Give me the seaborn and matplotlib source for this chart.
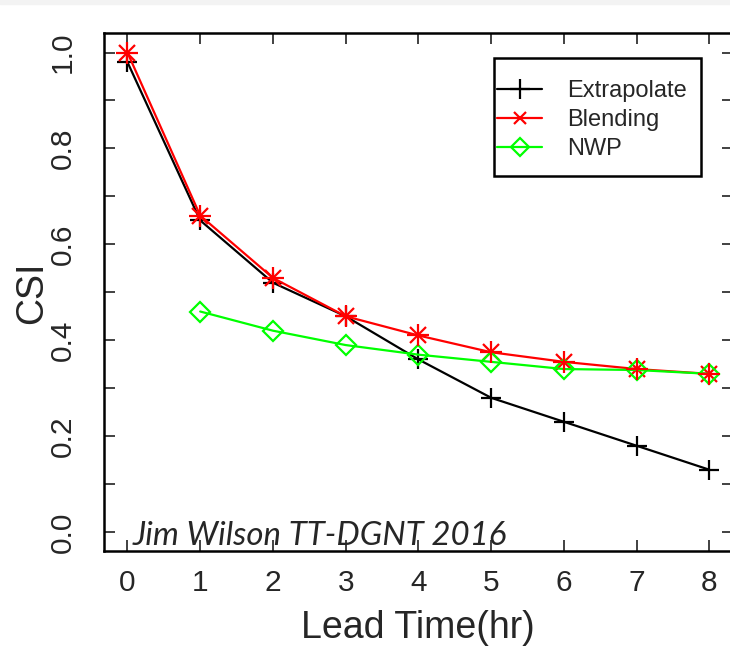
import numpy as np
import pandas as pd
import seaborn as sns
import matplotlib.pyplot as plt
from matplotlib.lines import Line2D
from matplotlib.patches import Rectangle

# values
lead_hours = [0, 1, 2, 3, 4, 5, 6, 7, 8]
extrapolate_csi = [0.98, 0.65, 0.52, 0.45, 0.36, 0.28, 0.23, 0.18, 0.13]
blending_csi = [1.00, 0.66, 0.53, 0.45, 0.41, 0.375, 0.355, 0.34, 0.33]
nwp_hours = [1, 2, 3, 4, 5, 6, 7, 8]
nwp_csi = [0.46, 0.42, 0.39, 0.37, 0.355, 0.34, 0.338, 0.33]
series_names = ['Extrapolate', 'Blending', 'NWP']
x_ticks = [0, 1, 2, 3, 4, 5, 6, 7, 8]
y_ticks = [0.0, 0.1, 0.2, 0.3, 0.4, 0.5, 0.6, 0.7, 0.8, 0.9, 1.0]
y_ticklabels = ['0.0', '', '0.2', '', '0.4', '', '0.6', '', '0.8', '', '1.0']

sns.set_style('ticks')
plt.rcParams['font.family'] = ['Liberation Sans', 'DejaVu Sans']

ext = pd.DataFrame({'hour': lead_hours, 'csi': extrapolate_csi})
bld = pd.DataFrame({'hour': lead_hours, 'csi': blending_csi})
nwp = pd.DataFrame({'hour': nwp_hours, 'csi': nwp_csi})

BLACK, RED, GREEN = 'black', '#ff0000', '#00ff00'

fig = plt.figure(figsize=(7.3, 6.68), dpi=100)
ax = fig.add_axes([0.1427, 0.1747, 0.8611, 0.7754])

lw = 1.6
sns.lineplot(data=ext, x='hour', y='csi', ax=ax, color=BLACK, lw=lw,
             marker='+', markersize=15, markeredgewidth=1.6,
             markeredgecolor=BLACK)
sns.lineplot(data=bld, x='hour', y='csi', ax=ax, color=RED, lw=lw,
             marker='x', markersize=11, markeredgewidth=1.6,
             markeredgecolor=RED)
sns.scatterplot(data=bld, x='hour', y='csi', ax=ax, color=RED,
                marker='+', s=230, linewidth=1.6, zorder=5)
sns.lineplot(data=nwp, x='hour', y='csi', ax=ax, color=GREEN, lw=lw,
             marker='D', markersize=10, markerfacecolor='none',
             markeredgecolor=GREEN, markeredgewidth=1.6)

ax.set_xlim(-0.32, 8.32)
ax.set_ylim(-0.04, 1.04)
ax.set_xticks(x_ticks)
ax.set_yticks(y_ticks)
ax.set_yticklabels(y_ticklabels, rotation=90, va='center')
ax.tick_params(direction='in', length=8, width=1.3, labelsize=21.5,
               top=True, right=True, color='#333333')
ax.tick_params(axis='x', pad=13)
ax.tick_params(axis='y', pad=20)
for s in ax.spines.values():
    s.set_linewidth(1.8)
    s.set_color('black')

ax.set_xlabel('Lead Time(hr)', fontsize=27)
ax.set_ylabel('CSI', fontsize=27)
ax.xaxis.set_label_coords(0.4992, -0.113)
ax.yaxis.set_label_coords(-0.086, 0.5)

ax.text(0.075, -0.026, 'Jim Wilson TT-DGNT 2016', fontsize=23.8,
        style='italic', family=['Lato', 'DejaVu Sans'], va='baseline')

# legend box
ax.add_patch(Rectangle((0.6195, 0.7242), 0.3293, 0.2276, transform=ax.transAxes,
                       fill=False, edgecolor='black', lw=1.8, zorder=6))
handles = [
    Line2D([], [], color=BLACK, lw=lw, marker='+', markersize=15, markeredgewidth=1.6),
    Line2D([], [], color=RED, lw=lw, marker='x', markersize=9, markeredgewidth=1.6),
    Line2D([], [], color=GREEN, lw=lw, marker='D', markersize=9,
           markerfacecolor='none', markeredgewidth=1.6),
]
leg = ax.legend(handles, series_names, loc='upper left', frameon=False,
                bbox_to_anchor=(0.6195 + 0.0062, 0.9517 - 0.042),
                borderaxespad=0, borderpad=0, fontsize=17,
                handlelength=1.9, handletextpad=1.05, labelspacing=0.3)

fig.patches.append(Rectangle((0, 0.994), 1, 0.006, transform=fig.transFigure,
                             color='#f3f3f3', zorder=0))

plt.savefig('out.png', dpi=100)
